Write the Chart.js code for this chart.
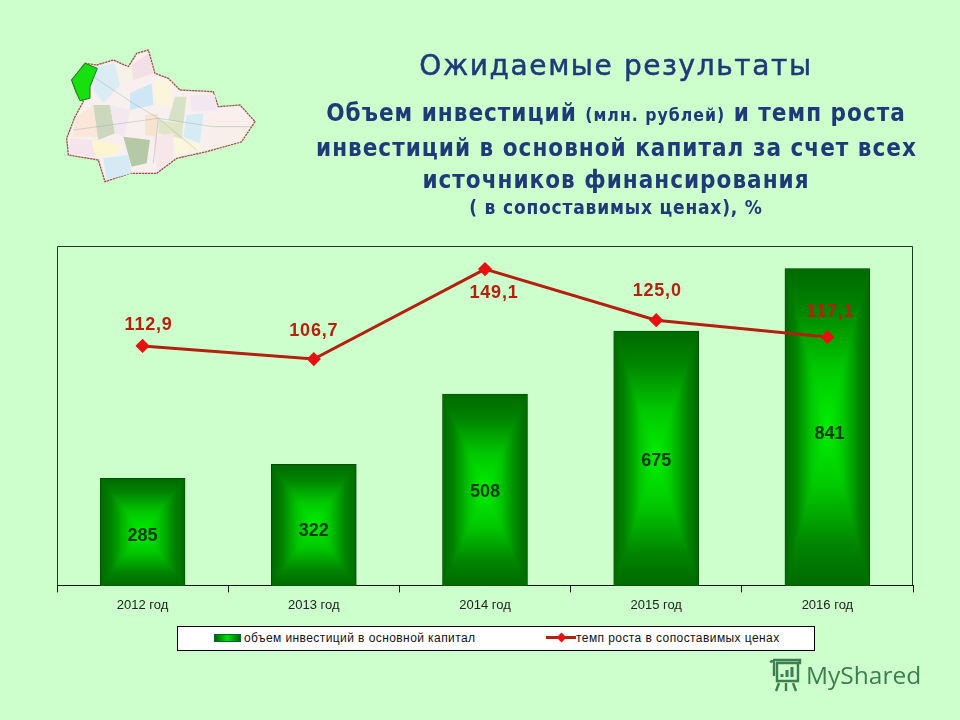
<!DOCTYPE html>
<html lang="ru">
<head>
<meta charset="utf-8">
<title>Ожидаемые результаты</title>
<script src="https://cdn.jsdelivr.net/npm/chart.js@4"></script>
<style>
  html, body { margin: 0; padding: 0; background: #ccffcc; }
  #page { position: relative; width: 960px; height: 720px; overflow: hidden; background: #ccffcc; }
  #chart { position: absolute; left: 0; top: 0; }
  .head { position: absolute; left: 316px; width: 600px; text-align: center; color: #1f3a78; font-family: "DejaVu Sans", sans-serif; white-space: nowrap; }
  #legend { position: absolute; left: 177px; top: 626px; width: 636px; height: 23px; background: #fff; border: 1px solid #000; }
  #legend span { position: absolute; top: 3px; font: 12px/16px "Liberation Sans", sans-serif; color: #111; letter-spacing: .42px; white-space: nowrap; }
  #barKey { position: absolute; left: 36px; top: 7px; width: 27px; height: 8px; background: linear-gradient(90deg, #006600, #00e000 50%, #006600); border: 1px solid #063; box-sizing: border-box; }
  #lineKey { position: absolute; left: 368px; top: 9px; width: 30px; height: 3px; background: #b32010; }
  #lineKey i { position: absolute; left: 12px; top: -2px; width: 7px; height: 7px; background: #e81010; transform: rotate(45deg); }
  #map { position: absolute; left: 40px; top: 30px; }
  #logo { position: absolute; left: 768px; top: 657px; }
  #logoText { position: absolute; left: 806px; top: 658px; font: 400 24.5px/34px "Open Sans", sans-serif; color: #3d7d52; }
</style>
</head>
<body>
<div id="page">
  <canvas id="chart" width="960" height="720"></canvas>

  <svg id="map" width="240" height="170" viewBox="0 0 720 510">
    <defs><filter id="soft"><feGaussianBlur stdDeviation="1.5"/></filter></defs>
    <g filter="url(#soft)">
      <path id="mapShape" d="M95 150L135 100L170 105L220 90L265 110L290 70L325 60L345 130L385 145L420 180L520 185L535 230L600 225L645 275L605 335L500 365L410 385L350 430L270 430L195 455L175 390L85 375L80 325L105 260L130 215L110 190Z" fill="#f8f0ee" stroke="#a0504a" stroke-width="4" stroke-dasharray="7 2"/>
      <path d="M165 110L225 100L240 165L190 220L160 180Z" fill="#dcecf5"/>
      <path d="M225 100L275 115L280 150L240 165Z" fill="#f7f2e8"/>
      <path d="M275 105L325 70L340 130L280 150Z" fill="#f3dfe6"/>
      <path d="M345 150L395 155L395 230L350 220Z" fill="#fbf6da"/>
      <path d="M270 190L335 160L340 225L270 240Z" fill="#cfe6f5"/>
      <path d="M110 260L160 225L175 320L95 320Z" fill="#fbe6da"/>
      <path d="M160 225L210 225L225 310L175 330Z" fill="#ccd8bd"/>
      <path d="M210 225L270 240L255 320L225 310Z" fill="#f4e8f0"/>
      <path d="M405 200L440 200L430 280L385 270Z" fill="#d6e2c6"/>
      <path d="M440 255L490 250L480 340L430 320Z" fill="#d5ecf5"/>
      <path d="M450 195L525 195L530 240L455 245Z" fill="#f3e8f2"/>
      <path d="M315 255L355 250L350 320L315 315Z" fill="#f8e3cf"/>
      <path d="M355 270L430 280L425 330L355 310Z" fill="#dfe6c8"/>
      <path d="M250 320L330 330L320 400L275 410Z" fill="#b6c9a6"/>
      <path d="M155 330L245 345L225 375L165 380Z" fill="#fbf6d0"/>
      <path d="M90 325L155 330L165 380L90 370Z" fill="#f5e4ec"/>
      <path d="M190 385L265 375L275 430L200 450Z" fill="#d5eaf5"/>
      <path d="M340 320L400 310L400 385L350 425Z" fill="#f7e6ea"/>
      <path d="M400 320L440 330L490 350L410 380Z" fill="#fbf7dc"/>
      <path d="M500 260L640 275L600 335L505 360Z" fill="#f7efe8"/>
      <path d="M95 150L135 100L172 115L150 170L150 205L120 212L110 190Z" fill="#18e010" stroke="#1d7a1d" stroke-width="3"/>
    </g>
    <g stroke="#8e9aa0" stroke-width="1.5" fill="none" opacity=".7">
      <path d="M160 140L280 220L355 265L520 290L640 290"/>
      <path d="M100 300L355 265L470 360"/>
      <path d="M355 265L340 400"/>
    </g>
  </svg>

  <div class="head" style="top:48px;font-size:28px;line-height:36px;letter-spacing:1.6px;-webkit-text-stroke:.5px #1f3a78;">Ожидаемые результаты</div>
  <div class="head" style="top:97px;font-size:24px;line-height:32.5px;font-weight:bold;font-family:'DejaVu Sans Condensed','DejaVu Sans',sans-serif;letter-spacing:1px;">Объем инвестиций <span style="font-size:17.5px;">(млн. рублей)</span> и темп роста<br>инвестиций в основной капитал за счет всех<br>источников финансирования</div>
  <div class="head" style="top:195px;font-size:19px;line-height:24px;font-weight:bold;font-family:'DejaVu Sans Condensed','DejaVu Sans',sans-serif;letter-spacing:.8px;">( в сопоставимых ценах), %</div>

  <div id="legend">
    <div id="barKey"></div><span id="barName" style="left:66px;"></span>
    <div id="lineKey"><i></i></div><span id="lineName" style="left:398px;"></span>
  </div>

  <svg id="logo" width="36" height="36" viewBox="0 0 36 36" fill="none" stroke="#3d7d52" stroke-width="2.4">
    <path d="M5 3H32V6H9V24H30V6"/>
    <path d="M2 5C5 3 7 5 6 9V19"/>
    <path d="M11 26L8 34M18 26V34M25 26L28 34"/>
    <path d="M14 20V17M19 20V13M24 20V10" stroke-width="3"/>
  </svg>
  <div id="logoText">MyShared</div>
</div>

<script>
const categories = ["2012 год", "2013 год", "2014 год", "2015 год", "2016 год"];
const investValues = [285, 322, 508, 675, 841];
const growthValues = [112.9, 106.7, 149.1, 125.0, 117.1];
const investName = "объем инвестиций в основной капитал";
const growthName = "темп роста в сопоставимых ценах";

document.getElementById("barName").textContent = investName;
document.getElementById("lineName").textContent = growthName;

// label nudges in px, same order as the categories
const barLabelShiftX = [0, 0, 0, 0, 2];
const barLabelShiftY = [4, 6, 2, 3, 7];
const lineLabelShiftX = [6, 0, 9, 1, 3];
const lineLabelShiftY = [-21, -28, 24, -29, -25];

// thin frame round the plot, the bottom side comes from the x axis
const framePlugin = {
  id: "frame",
  beforeDatasetsDraw(chart) {
    const { ctx, chartArea: a } = chart;
    ctx.save();
    ctx.lineWidth = 1;
    ctx.strokeStyle = "#1c3a1c";
    ctx.beginPath();
    ctx.moveTo(a.left + .5, a.bottom);
    ctx.lineTo(a.left + .5, a.top + .5);
    ctx.lineTo(a.right - .5, a.top + .5);
    ctx.lineTo(a.right - .5, a.bottom);
    ctx.stroke();
    ctx.restore();
  }
};

// bars fade from dark edges to a bright middle, four triangles per bar
const pillowPlugin = {
  id: "pillow",
  afterDatasetDraw(chart, args) {
    if (args.index !== 0) return;
    const { ctx } = chart;
    args.meta.data.forEach(bar => {
      const { x, y, base, width } = bar.getProps(["x", "y", "base", "width"], true);
      const l = x - width / 2 + 1, r = x + width / 2 - 1, t = y + 1, b = base;
      const cx = x, cy = (t + b) / 2;
      const sides = [
        [l, t, r, t, cx, t, cx, cy],
        [l, b, r, b, cx, b, cx, cy],
        [l, t, l, b, l, cy, cx, cy],
        [r, t, r, b, r, cy, cx, cy]
      ];
      sides.forEach(([x1, y1, x2, y2, gx0, gy0, gx1, gy1]) => {
        const g = ctx.createLinearGradient(gx0, gy0, gx1, gy1);
        g.addColorStop(0, "#006a00");
        g.addColorStop(.25, "#008400");
        g.addColorStop(.62, "#00c800");
        g.addColorStop(1, "#00f000");
        ctx.fillStyle = g;
        ctx.strokeStyle = g;
        ctx.lineWidth = .7;
        ctx.beginPath();
        ctx.moveTo(x1, y1);
        ctx.lineTo(x2, y2);
        ctx.lineTo(cx, cy);
        ctx.closePath();
        ctx.fill();
        ctx.stroke();
      });
    });
  }
};

// value labels on bars and line points
const valueLabelPlugin = {
  id: "valueLabels",
  afterDatasetsDraw(chart) {
    const { ctx } = chart;
    ctx.save();
    ctx.textAlign = "center";
    ctx.textBaseline = "middle";
    ctx.font = "bold 18px 'Liberation Sans', sans-serif";
    ctx.fillStyle = "#053a05";
    chart.getDatasetMeta(0).data.forEach((bar, i) => {
      const mid = (bar.y + bar.base) / 2;
      ctx.fillText(String(investValues[i]), bar.x + barLabelShiftX[i], mid + barLabelShiftY[i]);
    });
    ctx.letterSpacing = "0.8px";
    ctx.fillStyle = "#b5200f";
    chart.getDatasetMeta(1).data.forEach((pt, i) => {
      ctx.fillText(growthValues[i].toFixed(1).replace(".", ","), pt.x + lineLabelShiftX[i], pt.y + lineLabelShiftY[i]);
    });
    ctx.restore();
  }
};

new Chart(document.getElementById("chart"), {
  data: {
    labels: categories,
    datasets: [
      {
        type: "bar",
        label: investName,
        data: investValues,
        yAxisID: "y",
        order: 2,
        backgroundColor: "#006a00",
        borderColor: "#04400a",
        borderWidth: 1.5,
        categoryPercentage: 1,
        barPercentage: 0.5
      },
      {
        type: "line",
        label: growthName,
        data: growthValues,
        yAxisID: "y1",
        order: 1,
        borderColor: "#b32010",
        borderWidth: 3,
        tension: 0,
        pointStyle: "rectRot",
        pointRadius: 5,
        pointBackgroundColor: "#e81010",
        pointBorderColor: "#e81010"
      }
    ]
  },
  options: {
    responsive: false,
    animation: false,
    layout: { padding: { left: 57, right: 47, top: 246, bottom: 102 } },
    plugins: { legend: { display: false }, tooltip: { enabled: false }, title: { display: false } },
    scales: {
      x: {
        offset: true,
        grid: { offset: true, drawOnChartArea: false, color: "#111", tickLength: 7 },
        border: { color: "#111", width: 1 },
        ticks: { color: "#222", padding: 5, maxRotation: 0, autoSkip: false, font: { family: "'Liberation Sans', sans-serif", size: 13 } }
      },
      y: { display: false, min: 0, max: 900 },
      y1: { display: false, min: 0, max: 160 }
    }
  },
  plugins: [framePlugin, pillowPlugin, valueLabelPlugin]
});
</script>
</body>
</html>
